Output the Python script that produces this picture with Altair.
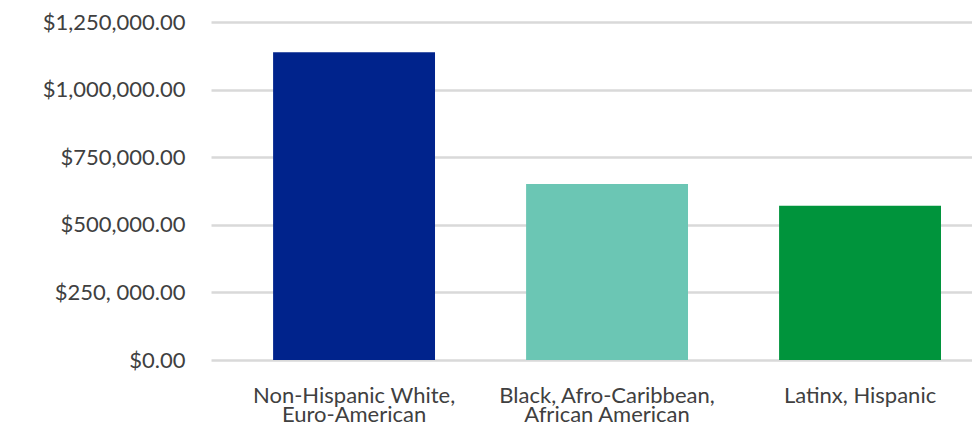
import altair as alt
import pandas as pd

categories = [
    "Non-Hispanic White, Euro-American",
    "Black, Afro-Caribbean, African American",
    "Latinx, Hispanic",
]
label_lines = [
    ["Non-Hispanic White,", "Euro-American"],
    ["Black, Afro-Caribbean,", "African American"],
    ["Latinx, Hispanic"],
]
values = [1138000, 651000, 570000]
colors = ["#00238C", "#6BC6B4", "#00943C"]

tick_values = [0, 250000, 500000, 750000, 1000000, 1250000]
tick_labels = ["$0.00", "$250, 000.00", "$500,000.00", "$750,000.00",
               "$1,000,000.00", "$1,250,000.00"]

df = pd.DataFrame({"group": categories, "value": values})

x_map = "{" + ", ".join(
    "'" + c + "': [" + ", ".join("'" + s + "'" for s in lines) + "]"
    for c, lines in zip(categories, label_lines)
) + "}"
y_map = "{" + ", ".join(
    "'" + str(v) + "': '" + l + "'" for v, l in zip(tick_values, tick_labels)
) + "}"

FONT = "Lato"
TXT = "#404040"

chart = alt.Chart(df).mark_bar().encode(
    x=alt.X(
        "group:N",
        sort=categories,
        scale=alt.Scale(paddingInner=0.36, paddingOuter=0.184, align=0.667),
        axis=alt.Axis(
            title=None,
            labelAngle=0,
            labelExpr=x_map + "[datum.label]",
            labelFont=FONT,
            labelFontSize=22,
            labelColor=TXT,
            labelPadding=25,
            labelLineHeight=19,
            labelBaseline="top",
            labelLimit=0,
            ticks=False,
            domain=False,
            grid=False,
        ),
    ),
    y=alt.Y(
        "value:Q",
        scale=alt.Scale(domain=[0, 1250000], nice=False),
        axis=alt.Axis(
            title=None,
            values=tick_values,
            labelExpr=y_map + "[''+datum.value]",
            labelFont=FONT,
            labelFontSize=22,
            labelColor=TXT,
            labelPadding=26,
            labelLimit=0,
            ticks=False,
            domain=False,
            grid=True,
            gridColor="#d9d9d9",
            gridWidth=2.5,
        ),
    ),
    color=alt.Color(
        "group:N",
        scale=alt.Scale(domain=categories, range=colors),
        legend=None,
    ),
).properties(
    width=761,
    height=338,
    autosize=alt.AutoSizeParams(type="none"),
    padding={"left": 203, "top": 14, "right": 0, "bottom": 67},
).configure_view(stroke=None)

chart.save("out.html", embed_options={"renderer": "svg", "actions": False})
